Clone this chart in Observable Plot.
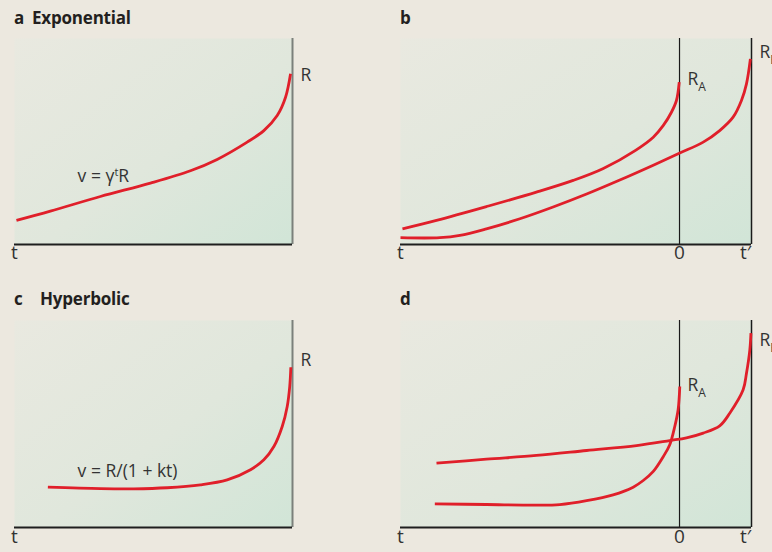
<!DOCTYPE html>
<html>
<head>
<meta charset="utf-8">
<script src="https://cdn.jsdelivr.net/npm/d3@7"></script>
<script src="https://cdn.jsdelivr.net/npm/@observablehq/plot@0.6"></script>
<style>
  html, body { margin: 0; padding: 0; background: #ece8df; }
  #root { position: relative; width: 772px; height: 552px; overflow: hidden; background: #ece8df; }
  .panel { position: absolute; width: 386px; height: 276px; }
  .title { position: absolute; left: 14px; font: 700 17px/20px "Open Sans", sans-serif; color: #231f20; white-space: nowrap; letter-spacing: -0.2px; }
  .title .letter { display: inline-block; }
  .chart { position: absolute; left: 0; top: 28px; }
  .chart svg { overflow: visible; }
</style>
</head>
<body>
<div id="root"></div>
<script>
// ---- data (t on x; value on y, 0..10 from axis to top of panel) ----
const expCurve = {
  t: [-9.93, -8.71, -6.91, -5.11, -3.67, -2.71, -1.63, -1.03, -0.55, -0.25, -0.07],
  v: [1.17, 1.62, 2.33, 2.98, 3.58, 4.13, 4.97, 5.53, 6.26, 7.15, 8.29]
};
const expA = {
  t: [-9.93, -8.71, -6.92, -5.13, -3.81, -2.73, -1.59, -0.94, -0.58, -0.29, -0.11, -0.01],
  v: [0.76, 1.17, 1.84, 2.54, 3.11, 3.69, 4.56, 5.21, 5.78, 6.42, 6.99, 7.88]
};
const expB = {
  t: [-10, -8.59, -7.87, -6.92, -5.72, -4.53, -3.33, -2.14, -0.94, 0.01, 0.85, 1.44, 1.92, 2.22, 2.40, 2.54],
  v: [0.33, 0.33, 0.44, 0.76, 1.25, 1.82, 2.45, 3.13, 3.85, 4.44, 4.97, 5.53, 6.18, 6.99, 7.80, 9.01]
};
const hypCurve = {
  t: [-8.80, -6.91, -5.71, -4.51, -3.31, -2.35, -1.51, -1.03, -0.67, -0.37, -0.19, -0.10, -0.06],
  v: [1.95, 1.88, 1.87, 1.92, 2.06, 2.30, 2.79, 3.27, 3.91, 4.88, 5.85, 6.81, 7.74]
};
const hypA = {
  t: [-8.77, -6.92, -5.13, -4.29, -3.33, -2.38, -1.66, -1.30, -0.94, -0.58, -0.35, -0.17, -0.05, 0.01],
  v: [1.14, 1.11, 1.08, 1.11, 1.30, 1.58, 1.95, 2.27, 2.71, 3.43, 4.00, 4.88, 5.69, 6.81]
};
const hypB = {
  t: [-8.71, -6.92, -5.13, -3.33, -1.54, -0.35, 0.25, 0.85, 1.44, 1.80, 2.28, 2.40, 2.52, 2.56],
  v: [3.11, 3.30, 3.48, 3.72, 3.96, 4.20, 4.33, 4.56, 4.91, 5.52, 6.65, 7.45, 8.58, 9.39]
};
const tickSingle = [{t: -10, label: "t"}];
const tickDouble = [{t: -10, label: "t"}, {t: 0, label: "0"}];
const tickPrime = [{t: 2.58, label: "t′"}];
const labelsA = [{t: 0, v: 8.20, text: "R"}, {t: -7.73, v: 3.30, text: "v = γ^tR", anchor: "start"}];
const labelsB = [{t: 0, v: 8.01, text: "R_A"}, {t: 2.58, v: 9.32, text: "R_B"}];
const labelsC = [{t: 0, v: 8.07, text: "R"}, {t: -7.73, v: 2.71, text: "v = R/(1 + kt)", anchor: "start"}];
const labelsD = [{t: 0, v: 6.86, text: "R_A"}, {t: 2.58, v: 9.03, text: "R_B"}];

const toRows = (s) => s.t.map((t, i) => ({t, v: s.v[i]}));
const RED = "#e01f2a";
const INK = "#333333";

function richify(svg) {
  d3.select(svg).selectAll("text").each(function () {
    const s = this.textContent;
    if (!/[_^]/.test(s)) return;
    const parts = s.split(/([_^]\w)/).filter(p => p !== "");
    this.textContent = "";
    let shift = 0;
    for (const p of parts) {
      const ts = document.createElementNS("http://www.w3.org/2000/svg", "tspan");
      if (p[0] === "^") {
        ts.textContent = p[1]; ts.setAttribute("font-size", "11px");
        ts.setAttribute("dy", -6 - shift); shift = -6;
      } else if (p[0] === "_") {
        ts.textContent = p[1]; ts.setAttribute("font-size", "12px");
        ts.setAttribute("dy", 6 - shift); shift = 6;
      } else {
        ts.textContent = p;
        ts.setAttribute("dy", -shift); shift = 0;
      }
      this.appendChild(ts);
    }
  });
}

function addGradient(svg, id) {
  const defs = d3.select(svg).insert("defs", ":first-child");
  const g = defs.append("linearGradient").attr("id", id)
    .attr("x1", "0%").attr("y1", "0%").attr("x2", "100%").attr("y2", "100%");
  g.append("stop").attr("offset", "0%").attr("stop-color", "#e9e9e0");
  g.append("stop").attr("offset", "55%").attr("stop-color", "#e0e7dc");
  g.append("stop").attr("offset", "100%").attr("stop-color", "#d1e5d7");
}

function panel({left, top, letter, letterW, title, titleTop, twoSided, curves, labels, marginTop, marginBottom, tickDy, id}) {
  const div = document.createElement("div");
  div.className = "panel";
  div.style.left = left + "px"; div.style.top = top + "px";
  const tdiv = document.createElement("div");
  tdiv.className = "title"; tdiv.style.top = titleTop + "px";
  tdiv.innerHTML = `<span class="letter" style="width:${letterW}px">${letter}</span>${title}`;
  div.appendChild(tdiv);

  const domain = twoSided ? [-10, 2.58] : [-10, 0];
  const marks = [
    Plot.frame({fill: `url(#${id})`, stroke: null}),
    Plot.ruleX([0], {stroke: twoSided ? "#1a1a1a" : "#7b807b", strokeWidth: twoSided ? 1.2 : 2}),
  ];
  if (twoSided) marks.push(Plot.ruleX([2.58], {stroke: "#1a1a1a", strokeWidth: 1.5}));
  marks.push(Plot.ruleY([0], {stroke: "#1e1e1e", strokeWidth: 1.8}));
  for (const c of curves) {
    marks.push(Plot.line(toRows(c), {x: "t", y: "v", stroke: RED, strokeWidth: 2.8, curve: "catmull-rom", strokeLinecap: "butt"}));
  }
  marks.push(Plot.text(twoSided ? tickDouble : tickSingle, {x: "t", text: "label", frameAnchor: "bottom", dy: tickDy, fill: INK, fontSize: 19}));
  if (twoSided) marks.push(Plot.text(tickPrime, {x: "t", text: "label", frameAnchor: "bottom", dy: tickDy, dx: -6, fill: INK, fontSize: 19}));
  marks.push(Plot.text(labels.filter(d => d.anchor === "start"), {x: "t", y: "v", text: "text", textAnchor: "start", fill: INK, fontSize: 17.5}));
  marks.push(Plot.text(labels.filter(d => d.anchor !== "start"), {x: "t", y: "v", text: "text", textAnchor: "start", dx: 8, fill: INK, fontSize: 17.5}));

  const svg = Plot.plot({
    width: 386,
    height: 248,
    marginLeft: 14,
    marginRight: twoSided ? 21 : 94,
    marginTop, marginBottom,
    x: {domain, axis: null},
    y: {domain: [0, 10], axis: null},
    style: {fontFamily: "'Open Sans', sans-serif", background: "transparent", overflow: "visible"},
    marks
  });
  addGradient(svg, id);
  richify(svg);
  const cdiv = document.createElement("div");
  cdiv.className = "chart";
  cdiv.appendChild(svg);
  div.appendChild(cdiv);
  document.getElementById("root").appendChild(div);
}

panel({left: 0, top: 0, letter: "a", letterW: 18, title: "Exponential", titleTop: 8, twoSided: false,
  curves: [expCurve], labels: labelsA, marginTop: 10, marginBottom: 32, tickDy: 14, id: "gradA"});
panel({left: 386, top: 0, letter: "b", letterW: 18, title: "", titleTop: 8, twoSided: true,
  curves: [expA, expB], labels: labelsB, marginTop: 10, marginBottom: 32, tickDy: 14, id: "gradB"});
panel({left: 0, top: 276, letter: "c", letterW: 26, title: "Hyperbolic", titleTop: 13, twoSided: false,
  curves: [hypCurve], labels: labelsC, marginTop: 16, marginBottom: 25, tickDy: 15, id: "gradC"});
panel({left: 386, top: 276, letter: "d", letterW: 18, title: "", titleTop: 13, twoSided: true,
  curves: [hypA, hypB], labels: labelsD, marginTop: 16, marginBottom: 25, tickDy: 15, id: "gradD"});
</script>
</body>
</html>
